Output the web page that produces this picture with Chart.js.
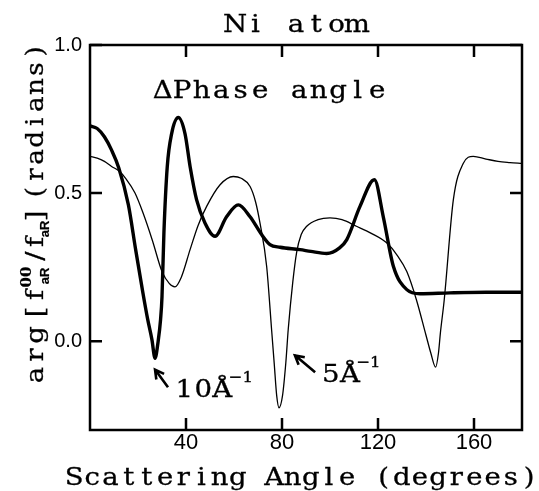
<!DOCTYPE html>
<html>
<head>
<meta charset="utf-8">
<script src="https://cdn.jsdelivr.net/npm/chart.js@4.4.1/dist/chart.umd.min.js"></script>
<style>
  html, body { margin: 0; padding: 0; background: #fff; }
</style>
</head>
<body>
<canvas id="myChart" width="539" height="491"></canvas>
<script>
// 10 A^-1 curve (thick line)
var thickAngle = [0, 3, 6, 9, 12, 16, 19, 22, 24, 25.8, 27.1, 28.4, 29.4, 30, 30.8, 32.2, 34, 36.8, 39.6, 41.7, 44.4, 47.9, 52.1, 56.9, 61.8, 66.7, 71.5, 75, 79.2, 87.5, 92, 98.6, 104, 107, 112.5, 118.5, 122.2, 126.4, 132, 137.5, 150, 165, 180];
var thickPhase = [0.727, 0.718, 0.69, 0.645, 0.585, 0.46, 0.31, 0.165, 0.075, 0.005, -0.058, 0.0, 0.073, 0.15, 0.366, 0.59, 0.70, 0.755, 0.70, 0.59, 0.478, 0.399, 0.354, 0.42, 0.46, 0.42, 0.36, 0.326, 0.317, 0.309, 0.303, 0.296, 0.315, 0.343, 0.455, 0.545, 0.42, 0.253, 0.174, 0.16, 0.163, 0.165, 0.165];

// 5 A^-1 curve (thin line)
var thinAngle = [0, 3, 6, 9, 12, 15, 18.75, 22, 26, 30, 33, 35.4, 38, 41.7, 45, 48.6, 54.2, 59.7, 63, 66.7, 69, 70.8, 73.6, 75.7, 76.8, 77.8, 78.75, 80.2, 81.6, 82.6, 84.5, 86.1, 88, 90.3, 95, 100, 105, 111, 117, 123.6, 128, 132, 136, 140, 142, 144, 145.2, 146, 147.6, 151.4, 155.5, 159.7, 165, 170, 175, 180];
var thinPhase = [0.624, 0.618, 0.607, 0.59, 0.575, 0.548, 0.50, 0.435, 0.34, 0.235, 0.195, 0.183, 0.215, 0.309, 0.39, 0.455, 0.528, 0.556, 0.55, 0.522, 0.47, 0.40, 0.253, 0.035, -0.08, -0.185, -0.225, -0.185, -0.072, 0.04, 0.2, 0.30, 0.36, 0.388, 0.41, 0.416, 0.41, 0.388, 0.365, 0.332, 0.29, 0.235, 0.14, 0.02, -0.04, -0.088, -0.04, 0.028, 0.14, 0.478, 0.60, 0.624, 0.615, 0.607, 0.603, 0.60];

var xTickValues = [40, 80, 120, 160];
var yTickValues = [0.0, 0.5, 1.0];

var serif = '"DejaVu Serif", serif';
var sans = '"Liberation Sans", Arial, sans-serif';

function pts(xs, ys) {
    var out = [];
    for (var i = 0; i < xs.length; i++) out.push({x: xs[i], y: ys[i]});
    return out;
}

// one glyph per fixed cell, stretched a little, like the typewriter lettering of the original
function monoText(ctx, str, x, y, cell, hs) {
    hs = hs || 1.15;
    ctx.textAlign = 'center';
    var chars = Array.from(str);
    for (var i = 0; i < chars.length; i++) {
        ctx.save();
        ctx.translate(x + cell * i + cell / 2, y);
        ctx.scale(hs, 1);
        ctx.fillText(chars[i], 0, 0);
        ctx.strokeText(chars[i], 0, 0);
        ctx.restore();
    }
}

function glyph(ctx, s, x, y, hs) {
    ctx.save();
    ctx.translate(x, y);
    ctx.scale(hs || 1.1, 1);
    ctx.textAlign = 'center';
    ctx.fillText(s, 0, 0);
    ctx.strokeText(s, 0, 0);
    ctx.restore();
}

function arrow(ctx, x1, y1, x2, y2) {
    ctx.beginPath();
    ctx.moveTo(x1, y1);
    ctx.lineTo(x2, y2);
    var a = Math.atan2(y2 - y1, x2 - x1);
    var h = 10;
    ctx.moveTo(x2 - h * Math.cos(a - 0.5), y2 - h * Math.sin(a - 0.5));
    ctx.lineTo(x2, y2);
    ctx.lineTo(x2 - h * Math.cos(a + 0.5), y2 - h * Math.sin(a + 0.5));
    ctx.stroke();
}

var decor = {
    id: 'decor',
    afterDraw: function(chart) {
        var ctx = chart.ctx;
        var area = chart.chartArea;
        var xs = chart.scales.x, ys = chart.scales.y;
        ctx.save();
        ctx.strokeStyle = '#000';
        ctx.fillStyle = '#000';
        ctx.lineCap = 'butt';

        // frame
        ctx.lineWidth = 2.5;
        ctx.strokeRect(area.left, area.top, area.right - area.left, area.bottom - area.top);

        // inward ticks on all four sides
        var tl = 12;
        ctx.beginPath();
        xTickValues.forEach(function(v) {
            var px = xs.getPixelForValue(v);
            ctx.moveTo(px, area.bottom); ctx.lineTo(px, area.bottom - tl);
            ctx.moveTo(px, area.top); ctx.lineTo(px, area.top + tl);
        });
        yTickValues.forEach(function(v) {
            var py = ys.getPixelForValue(v);
            ctx.moveTo(area.left, py); ctx.lineTo(area.left + tl, py);
            ctx.moveTo(area.right, py); ctx.lineTo(area.right - tl, py);
        });
        ctx.stroke();

        // annotations with arrows
        ctx.lineWidth = 2.6;
        arrow(ctx, xs.getPixelForValue(32.5), ys.getPixelForValue(-0.156), xs.getPixelForValue(27.1), ys.getPixelForValue(-0.096));
        arrow(ctx, xs.getPixelForValue(93.8), ys.getPixelForValue(-0.105), xs.getPixelForValue(85.4), ys.getPixelForValue(-0.048));

        ctx.textBaseline = 'alphabetic';
        ctx.lineWidth = 0.3;

        // title
        ctx.font = '24px ' + serif;
        monoText(ctx, 'Ni atom', 225, 32, 20.3);

        // x title
        ctx.font = '25px ' + serif;
        monoText(ctx, 'Scattering Angle (degrees)', 65, 485, 18.2, 1.1);

        // in-plot label
        ctx.font = '24px ' + serif;
        monoText(ctx, '\u0394Phase angle', xs.getPixelForValue(26.2), ys.getPixelForValue(0.82), 19.5);

        var ax = xs.getPixelForValue(35.3), ay = ys.getPixelForValue(-0.19);
        ctx.font = '24px ' + serif;
        monoText(ctx, '10\u00C5', ax, ay, 19);
        ctx.font = '15px ' + serif;
        glyph(ctx, '\u22121', ax + 66, ay - 15, 1.1);

        var bx = xs.getPixelForValue(96.4), by = ys.getPixelForValue(-0.139);
        ctx.font = '24px ' + serif;
        monoText(ctx, '5\u00C5', bx, by, 19);
        ctx.font = '15px ' + serif;
        glyph(ctx, '\u22121', bx + 47, by - 15, 1.1);

        // y title, rotated
        ctx.save();
        ctx.translate(43, 385);
        ctx.rotate(-Math.PI / 2);
        ctx.font = '25px ' + serif;
        monoText(ctx, 'arg', 0, 0, 20, 1.1);
        glyph(ctx, '[', 73, 0);
        glyph(ctx, 'f', 90, 0);
        ctx.lineWidth = 0.2;
        ctx.font = 'bold 15px ' + serif;
        glyph(ctx, '00', 108, -12, 1);
        ctx.font = 'bold 13px ' + sans;
        glyph(ctx, 'aR', 109, 6, 1);
        ctx.lineWidth = 0.3;
        ctx.font = '25px ' + serif;
        glyph(ctx, '/', 129, 0);
        glyph(ctx, 'f', 143, 0);
        ctx.lineWidth = 0.2;
        ctx.font = 'bold 13px ' + sans;
        glyph(ctx, 'aR', 156, 6, 1);
        ctx.lineWidth = 0.3;
        ctx.font = '25px ' + serif;
        glyph(ctx, ']', 169, 0);
        monoText(ctx, '(radians)', 184, 0, 17.6, 1.05);
        ctx.restore();

        ctx.restore();
    }
};

new Chart('myChart', {
    type: 'line',
    data: {
        datasets: [{
            data: pts(thickAngle, thickPhase),
            borderColor: '#000',
            borderWidth: 3.4,
            pointRadius: 0,
            cubicInterpolationMode: 'monotone',
            fill: false
        }, {
            data: pts(thinAngle, thinPhase),
            borderColor: '#000',
            borderWidth: 1.3,
            pointRadius: 0,
            cubicInterpolationMode: 'monotone',
            fill: false
        }]
    },
    options: {
        responsive: false,
        animation: false,
        devicePixelRatio: 1,
        layout: { padding: { left: 0, top: 45, right: 17, bottom: 0 } },
        plugins: { legend: { display: false }, tooltip: { enabled: false } },
        scales: {
            x: {
                type: 'linear',
                min: 0,
                max: 180,
                grid: { display: false, drawTicks: false },
                border: { display: false },
                ticks: { color: '#000', font: { family: sans, size: 22 }, padding: 0, maxRotation: 0 },
                afterBuildTicks: function(s) { s.ticks = xTickValues.map(function(v) { return {value: v}; }); },
                afterFit: function(s) { s.height = 61; }
            },
            y: {
                type: 'linear',
                min: -0.3,
                max: 1.0,
                grid: { display: false, drawTicks: false },
                border: { display: false },
                ticks: {
                    color: '#000', font: { family: sans, size: 20 }, padding: 8,
                    callback: function(v) { return v.toFixed(1); }
                },
                afterBuildTicks: function(s) { s.ticks = yTickValues.map(function(v) { return {value: v}; }); },
                afterFit: function(s) { s.width = 90; }
            }
        }
    },
    plugins: [decor]
});
</script>
</body>
</html>
